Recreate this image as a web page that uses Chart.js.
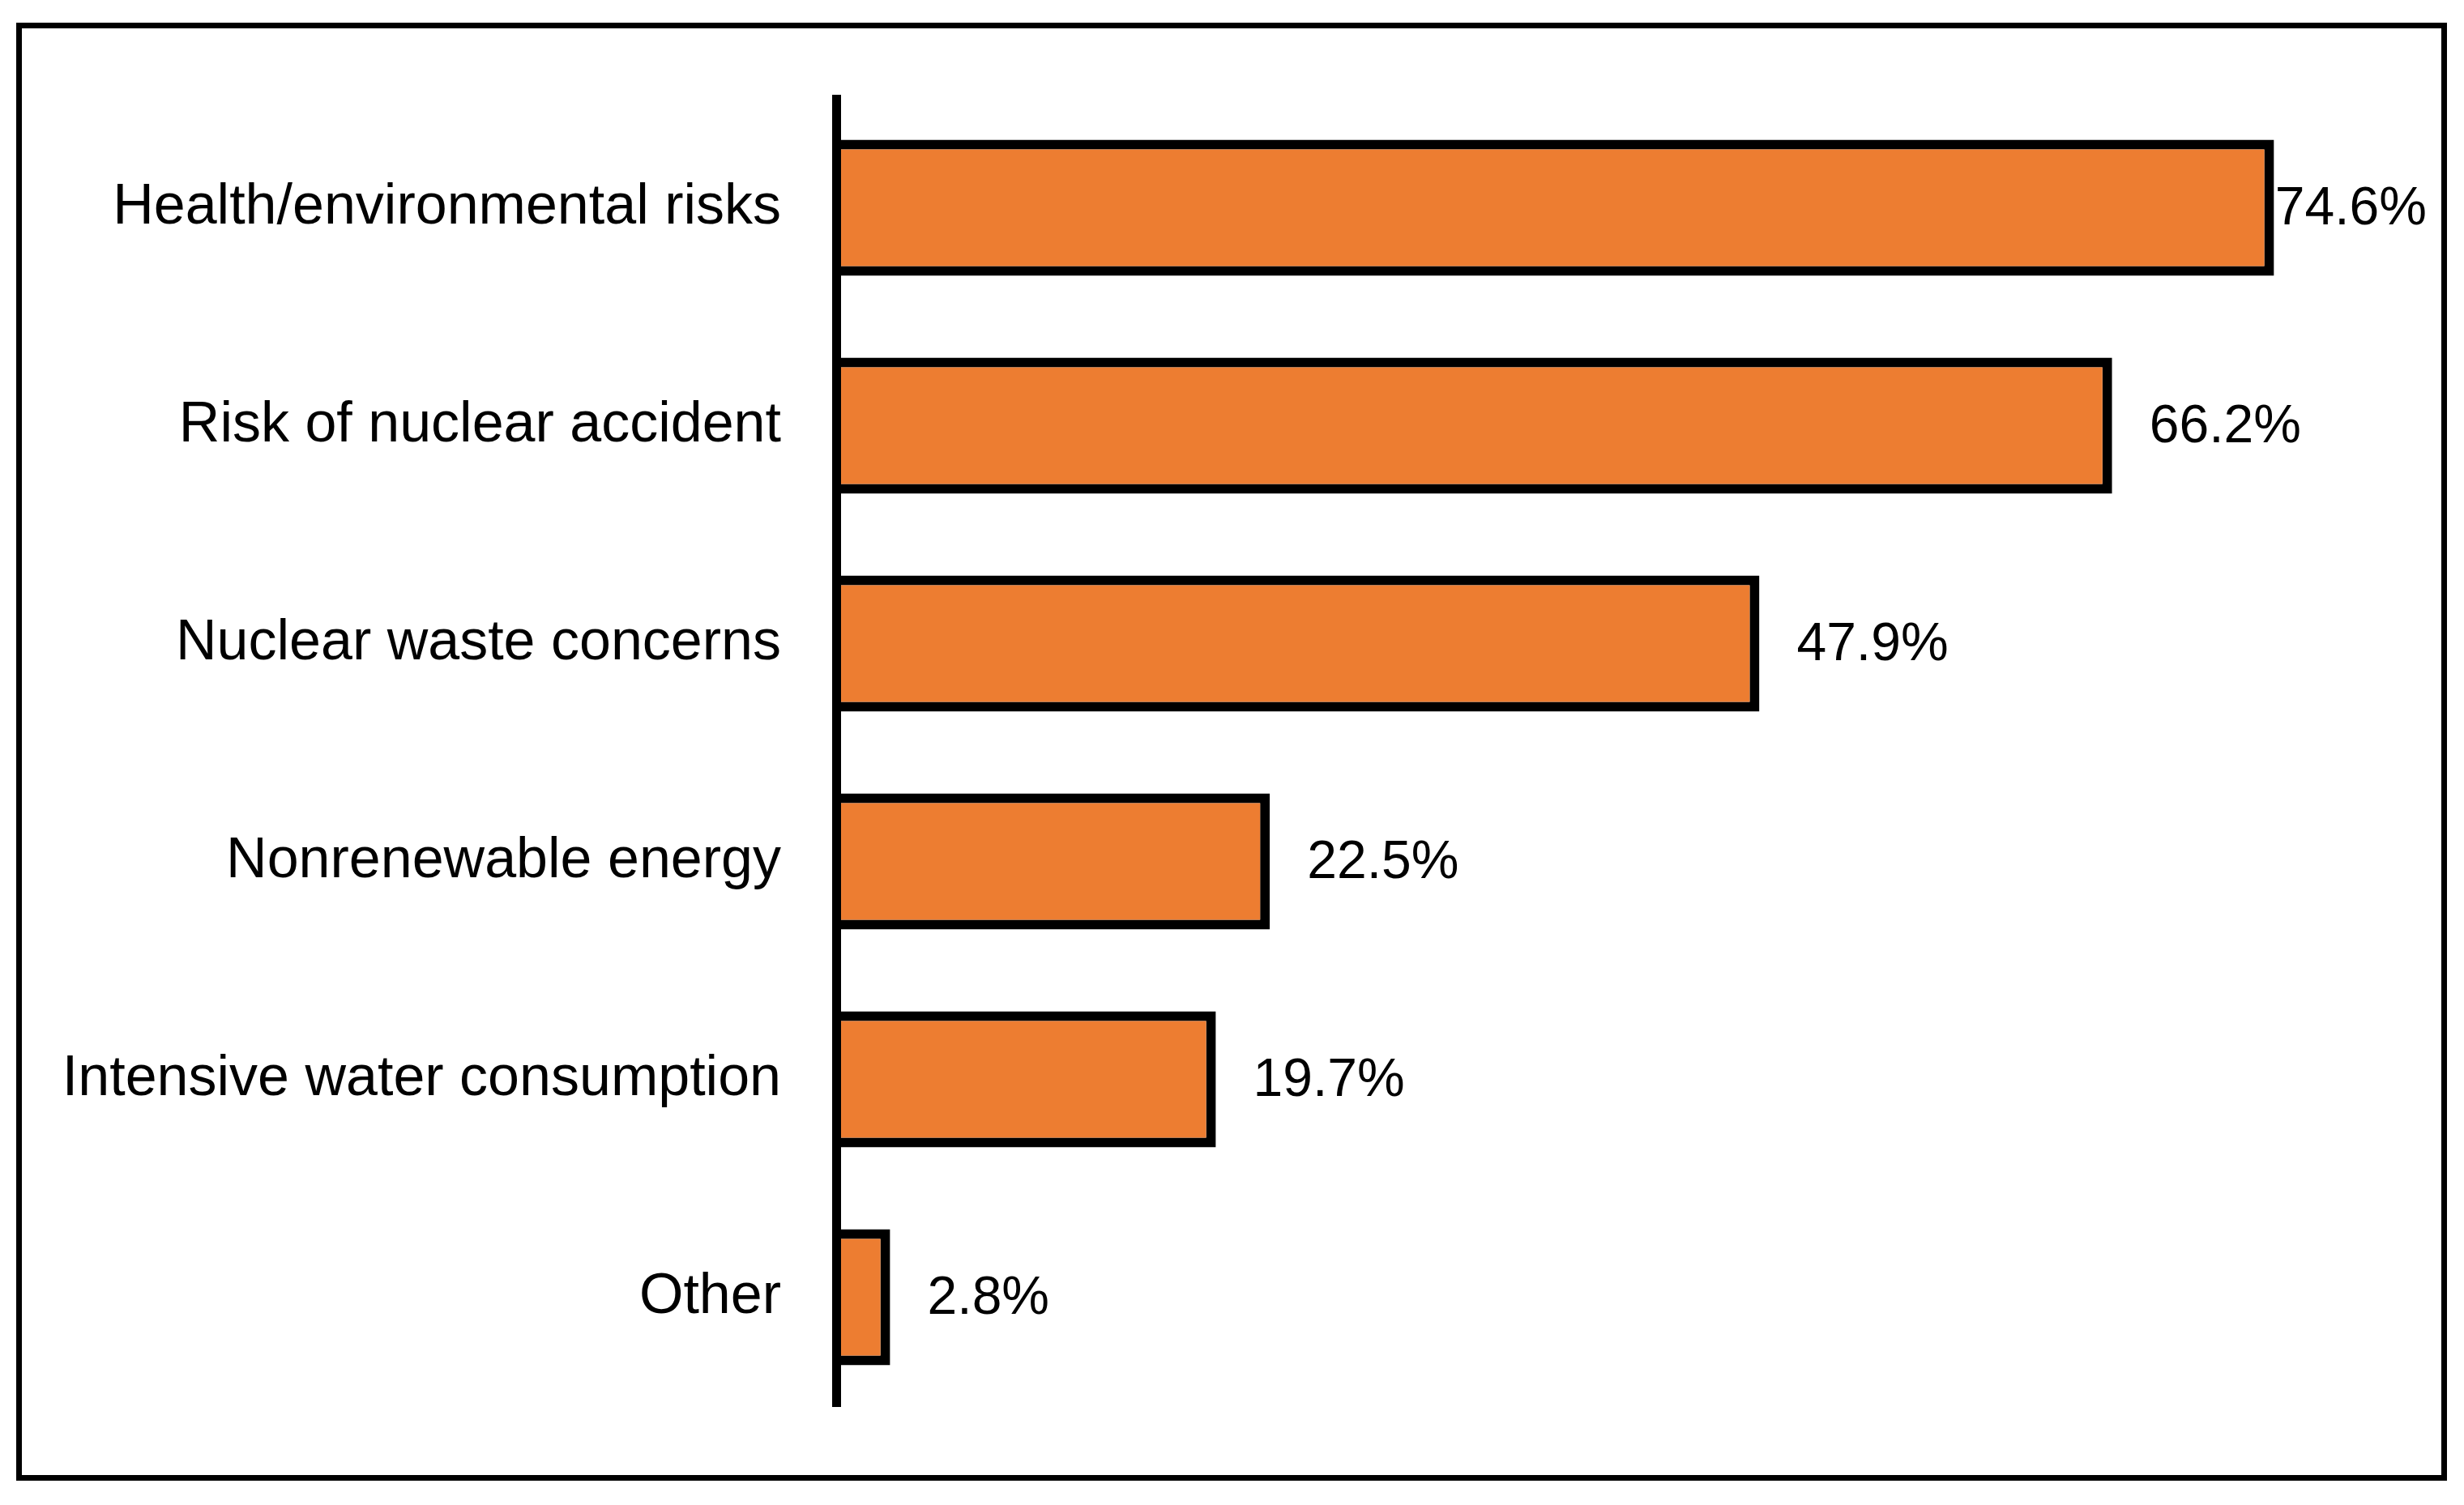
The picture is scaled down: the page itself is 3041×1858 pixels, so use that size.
<!DOCTYPE html>
<html><head><meta charset="utf-8">
<script src="https://cdn.jsdelivr.net/npm/chart.js@4.4.1/dist/chart.umd.min.js"></script>
<style>
html,body{margin:0;padding:0;background:#fff;}
#frame{position:absolute;left:20px;top:28px;width:3000px;height:1800px;box-sizing:border-box;border:7px solid #000;background:#fff;}
#wrap{position:relative;width:2986px;height:1786px;}
</style></head><body>
<div id="frame"><div id="wrap"><canvas id="c"></canvas></div></div>
<script>
const categories = [
  "Health/environmental risks",
  "Risk of nuclear accident",
  "Nuclear waste concerns",
  "Nonrenewable energy",
  "Intensive water consumption",
  "Other"
];
const values = [74.6, 66.2, 47.9, 22.5, 19.7, 2.8];
const valueLabels = values.map(v => v.toFixed(1) + "%");

const FONT = '"Liberation Sans", Arial, sans-serif';

const dataLabelPlugin = {
  id: 'dataLabels',
  afterDatasetsDraw(chart) {
    const ctx = chart.ctx;
    const meta = chart.getDatasetMeta(0);
    ctx.save();
    ctx.font = '66px ' + FONT;
    ctx.fillStyle = '#000';
    ctx.textBaseline = 'middle';
    ctx.textAlign = 'left';
    const limit = chart.width - 18;
    meta.data.forEach((bar, i) => {
      const t = valueLabels[i];
      const w = ctx.measureText(t).width;
      let x = bar.x + 46;
      if (x + w > limit) x = limit - w;
      ctx.fillText(t, x, bar.y + 2);
    });
    ctx.restore();
  }
};

new Chart(document.getElementById('c'), {
  type: 'bar',
  data: {
    labels: categories,
    datasets: [{
      data: values,
      backgroundColor: '#ED7D31',
      borderColor: '#000',
      borderWidth: 12,
      borderSkipped: 'start',
      barPercentage: 0.625,
      categoryPercentage: 1.0
    }]
  },
  options: {
    indexAxis: 'y',
    responsive: true,
    maintainAspectRatio: false,
    devicePixelRatio: 1,
    animation: false,
    layout: { padding: { top: 87, bottom: 85, left: 0, right: 78 } },
    plugins: { legend: { display: false }, tooltip: { enabled: false } },
    scales: {
      x: { min: 0, max: 80, display: false, grid: { display: false } },
      y: {
        grid: { display: true, drawOnChartArea: false, drawTicks: true, tickLength: 68, color: 'rgba(0,0,0,0)' },
        border: { display: true, color: '#000', width: 11, z: 1 },
        ticks: { color: '#000', padding: 0, font: { size: 70, family: FONT } },
        afterFit(scale) { scale.width = 1005; }
      }
    }
  },
  plugins: [dataLabelPlugin]
});
</script>
</body></html>
